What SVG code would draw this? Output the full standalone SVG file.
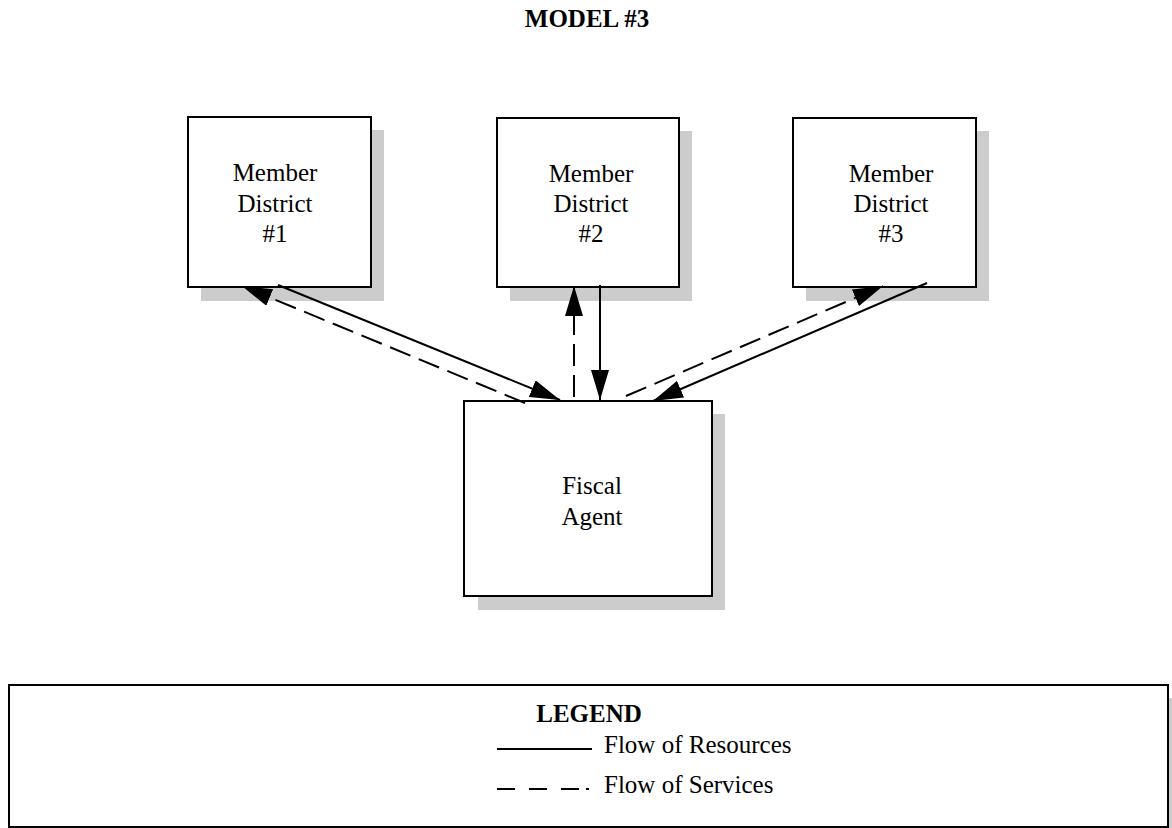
<svg xmlns="http://www.w3.org/2000/svg" width="1172" height="828" viewBox="0 0 1172 828">
<style>
  .box { fill: #ffffff; stroke: #000000; stroke-width: 2; }
  .shadow { fill: #cccccc; stroke: none; }
  .lbl { font-family: "Liberation Serif", "Times New Roman", serif; font-size: 25px; fill: #000000; text-anchor: middle; }
  .ttl { font-family: "Liberation Serif", "Times New Roman", serif; font-size: 25px; font-weight: bold; fill: #000000; text-anchor: middle; }
  .leg { font-family: "Liberation Serif", "Times New Roman", serif; font-size: 25px; fill: #000000; }
  .solid { stroke: #000000; stroke-width: 2; fill: none; }
  .dash { stroke: #000000; stroke-width: 2; fill: none; stroke-dasharray: 22 9; }
</style>
<defs>
  <marker id="ah" viewBox="0 0 30 18" refX="30" refY="9" markerWidth="30" markerHeight="18" markerUnits="userSpaceOnUse" orient="auto">
    <path d="M0,0 L30,9 L0,18 Z" fill="#000000" stroke="none"/>
  </marker>
</defs>
<rect width="1172" height="828" fill="#ffffff"/>
<text class="ttl" x="587" y="27">MODEL #3</text>

<g id="district1">
  <rect class="shadow" x="201" y="130" width="183" height="171"/>
  <rect class="box" x="188" y="117" width="183" height="170"/>
  <text class="lbl" x="275" y="181">Member</text>
  <text class="lbl" x="275" y="212">District</text>
  <text class="lbl" x="275" y="242">#1</text>
</g>
<g id="district2">
  <rect class="shadow" x="510" y="131" width="182" height="170"/>
  <rect class="box" x="497" y="118" width="182" height="169"/>
  <text class="lbl" x="591" y="182">Member</text>
  <text class="lbl" x="591" y="212">District</text>
  <text class="lbl" x="591" y="242">#2</text>
</g>
<g id="district3">
  <rect class="shadow" x="806" y="131" width="183" height="170"/>
  <rect class="box" x="793" y="118" width="183" height="169"/>
  <text class="lbl" x="891" y="182">Member</text>
  <text class="lbl" x="891" y="212">District</text>
  <text class="lbl" x="891" y="242">#3</text>
</g>
<g id="fiscal">
  <rect class="shadow" x="478" y="414" width="247" height="196"/>
  <rect class="box" x="464" y="401" width="248" height="195"/>
  <text class="lbl" x="592" y="494">Fiscal</text>
  <text class="lbl" x="592" y="525">Agent</text>
</g>

<g id="connectors">
  <line class="solid" x1="278" y1="285" x2="560" y2="400" marker-end="url(#ah)"/>
  <line class="dash" x1="525" y1="403" x2="242" y2="286" marker-end="url(#ah)"/>
  <line class="dash" x1="574" y1="397" x2="574" y2="286" marker-end="url(#ah)"/>
  <line class="solid" x1="600" y1="285" x2="600" y2="400" marker-end="url(#ah)"/>
  <line class="dash" x1="626" y1="396" x2="883" y2="286" marker-end="url(#ah)"/>
  <line class="solid" x1="927" y1="283" x2="653" y2="401" marker-end="url(#ah)"/>
</g>

<g id="legend">
  <rect class="shadow" x="22" y="698" width="1159" height="142"/>
  <rect class="box" x="9" y="685" width="1159" height="142"/>
  <text class="ttl" x="589" y="722">LEGEND</text>
  <line class="solid" x1="497" y1="749" x2="592" y2="749"/>
  <text class="leg" x="604" y="753">Flow of Resources</text>
  <line x1="497" y1="789" x2="580" y2="789" stroke="#000000" stroke-width="2" stroke-dasharray="18 14"/>
  <line x1="586" y1="789" x2="589" y2="789" stroke="#000000" stroke-width="2"/>
  <text class="leg" x="604" y="793">Flow of Services</text>
</g>
</svg>
